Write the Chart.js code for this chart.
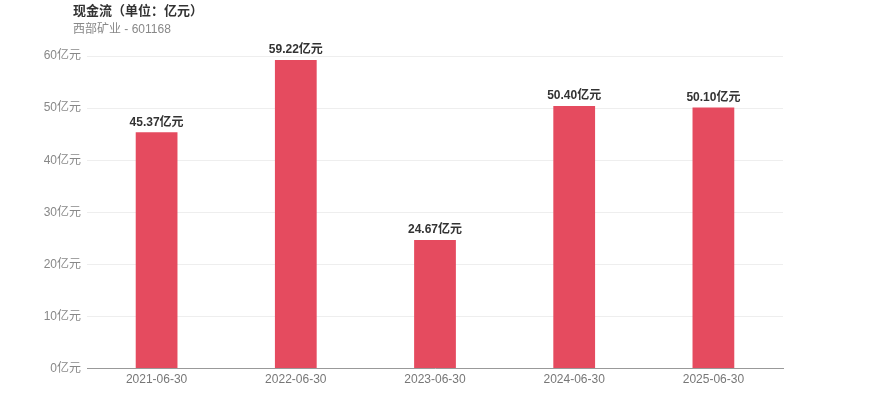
<!DOCTYPE html>
<html>
<head>
<meta charset="utf-8">
<script src="https://cdn.jsdelivr.net/npm/chart.js@4"></script>
<style>
  body { margin: 0; background: #fff; font-family: "Liberation Sans", "Noto Sans CJK SC", sans-serif; }
  .wrap { position: relative; width: 870px; height: 417px; }
  .title { position: absolute; left: 73px; top: 0px; font-size: 13px; font-weight: bold; color: #333; }
  .subtitle { position: absolute; left: 73px; top: 19px; font-size: 12px; color: #888; }
  canvas { position: absolute; left: 0; top: 0; }
</style>
</head>
<body>
<div class="wrap">
  <canvas id="chart" width="870" height="417"></canvas>
  <div class="title">现金流（单位：亿元）</div>
  <div class="subtitle">西部矿业 - 601168</div>
</div>
<script>
const categories = ['2021-06-30', '2022-06-30', '2023-06-30', '2024-06-30', '2025-06-30'];
const cashFlow = [45.37, 59.22, 24.67, 50.40, 50.10];
const yTicks = [0, 10, 20, 30, 40, 50, 60];
const unit = '亿元';

const FONT = '"Liberation Sans", "Noto Sans CJK SC", sans-serif';

// draw value labels above each bar
const valueLabels = {
  id: 'valueLabels',
  afterDatasetsDraw(chart) {
    const ctx = chart.ctx;
    const meta = chart.getDatasetMeta(0);
    ctx.save();
    ctx.font = `bold 12px ${FONT}`;
    ctx.fillStyle = '#333';
    ctx.textAlign = 'center';
    ctx.textBaseline = 'bottom';
    meta.data.forEach((bar, i) => {
      ctx.fillText(cashFlow[i].toFixed(2) + unit, bar.x, bar.y - 4);
    });
    ctx.restore();
  }
};

new Chart(document.getElementById('chart'), {
  type: 'bar',
  data: {
    labels: categories,
    datasets: [{
      data: cashFlow,
      backgroundColor: '#E54B5F',
      categoryPercentage: 1,
      barPercentage: 0.3,
    }]
  },
  options: {
    responsive: false,
    animation: false,
    layout: { padding: { top: 56, right: 87, bottom: 26, left: 0 } },
    plugins: { legend: { display: false }, tooltip: { enabled: false } },
    scales: {
      x: {
        grid: { display: false, drawTicks: false },
        border: { color: '#999' },
        ticks: { color: '#777', font: { size: 12, family: FONT }, padding: 4 },
      },
      y: {
        min: 0,
        max: 60,
        afterBuildTicks(scale) { scale.ticks = yTicks.map(v => ({ value: v })); },
        afterFit(scale) { scale.width = 87; },
        grid: { color: '#eee', drawTicks: false },
        border: { display: false },
        ticks: {
          color: '#888',
          font: { size: 12, family: FONT },
          padding: 6,
          callback: v => v + unit,
        },
      }
    }
  },
  plugins: [valueLabels]
});
</script>
</body>
</html>
